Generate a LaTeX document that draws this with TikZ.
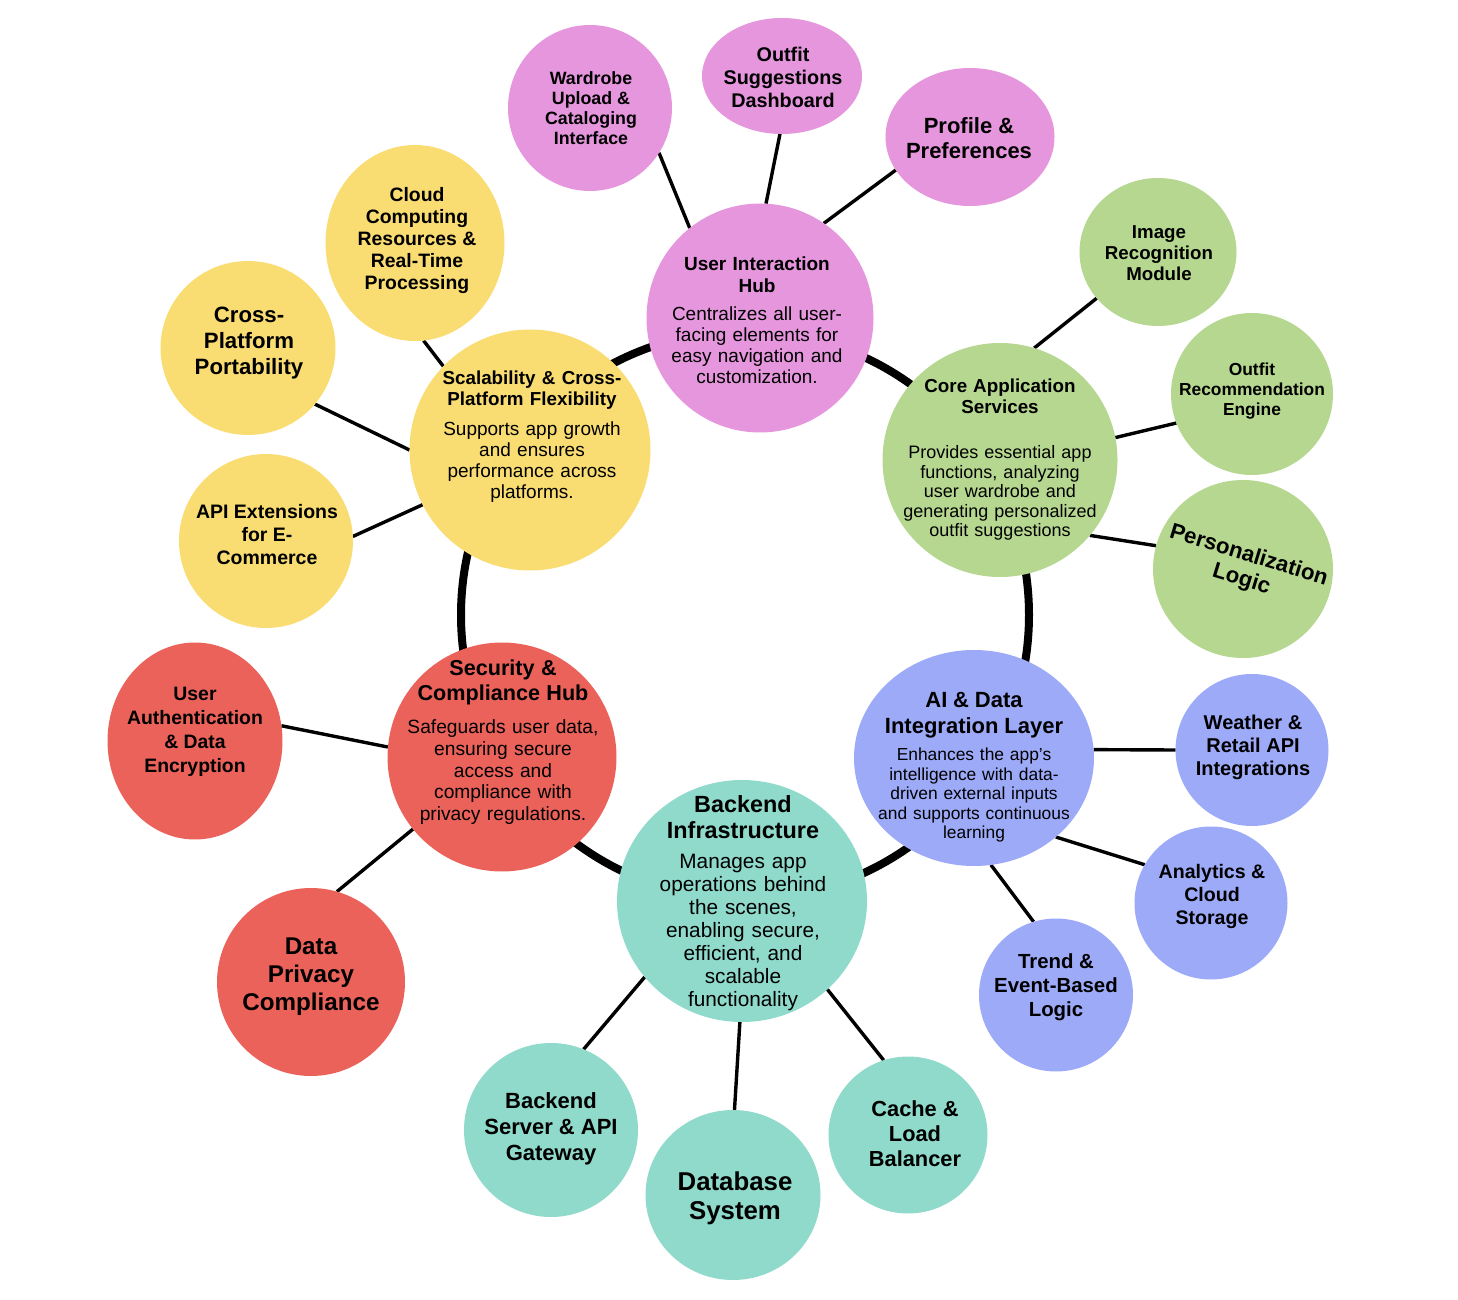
\documentclass[tikz,border=0pt]{standalone}
\usepackage{fontspec}
\setmainfont{Liberation Sans}
\usetikzlibrary{shapes.geometric,backgrounds}
\definecolor{pinkc}{HTML}{E596DD}
\definecolor{greenc}{HTML}{B6D78F}
\definecolor{bluec}{HTML}{9DAAF8}
\definecolor{tealc}{HTML}{8FDACB}
\definecolor{redc}{HTML}{EA625A}
\definecolor{yellowc}{HTML}{F9DD73}

\begin{document}
\begin{tikzpicture}[
    x=0.5pt,
    y=-0.5pt,
    font=\normalfont,
    bubble/.style={
		ellipse,
		draw=none,
		inner sep=0pt,
		outer sep=0pt
	},
	hubtxt/.style 2 args={
		align=center,
		text width=130pt,
		inner sep=0pt,
		text=black,
		font=\fontsize{#1}{#2}\selectfont
	},
	sattxt/.style 2 args={
		align=center,
		inner sep=0pt,
		text=black,
		font=\fontsize{#1}{#2}\selectfont\bfseries
	},
	link/.style={
		draw=black,
		line width=1.7pt
	},
	ring/.style={
		draw=black,
		line width=4pt
	}
  ]
 \useasboundingbox (0,0) rectangle (1458,1300);
 \coordinate (ringc) at (745,615);

% // The hubs
 \node [bubble, fill=pinkc, minimum width=113.5pt, minimum height=114.5pt] (uihub) at (760,318) {};
 \node [bubble, fill=greenc, minimum width=117.5pt, minimum height=117pt] (corehub) at (1000,460) {};
 \node [bubble, fill=bluec, minimum width=120pt, minimum height=108pt] (aihub) at (974,758) {};
 \node [bubble, fill=tealc, minimum width=125pt, minimum height=121pt] (backhub) at (742,901) {};
 \node [bubble, fill=redc, minimum width=114.5pt, minimum height=114.5pt] (sechub) at (502,757) {};
 \node [bubble, fill=yellowc, minimum width=120.5pt, minimum height=120.5pt] (scalehub) at (530,450) {};

 \node [hubtxt={9.5}{10.5}] (uitxt) at (757,320)
 {{\bfseries\fontsize{9.5}{11}\selectfont User Interaction\\Hub\par}\vspace{3.5pt}
  Centralizes all user-\\facing elements for\\easy navigation and\\customization.};
 \node [hubtxt={9}{9.8}] (coretxt) at (1000,460)
 {{\bfseries\fontsize{9.4}{10.5}\selectfont Core Application\\Services\par}\vspace{12.5pt}
  Provides essential app\\functions, analyzing\\user wardrobe and\\generating personalized\\outfit suggestions};
 \node [hubtxt={8.7}{9.75}] (aitxt) at (974,767)
 {{\bfseries\fontsize{11}{13}\selectfont AI \& Data\\Integration Layer\par}\vspace{4pt}
  Enhances the app’s\\intelligence with data-\\driven external inputs\\and supports continuous\\learning};
 \node [hubtxt={10.4}{11.5}] (backtxt) at (743,903)
 {{\bfseries\fontsize{11.7}{13}\selectfont Backend\\Infrastructure\par}\vspace{3.5pt}
  Manages app\\operations behind\\the scenes,\\enabling secure,\\efficient, and\\scalable\\functionality};
 \node [hubtxt={9.6}{10.8}] (sectxt) at (503,742)
 {{\bfseries\fontsize{10.8}{12.5}\selectfont Security \&\\Compliance Hub\par}\vspace{6pt}
  Safeguards user data,\\ensuring secure\\access and\\compliance with\\privacy regulations.};
 \node [hubtxt={9.5}{10.5}] (scaletxt) at (532,437)
 {{\bfseries\fontsize{9.4}{10.5}\selectfont Scalability \& Cross-\\Platform Flexibility\par}\vspace{4.5pt}
  Supports app growth\\and ensures\\performance across\\platforms.};

% user interaction
 \node [bubble, fill=pinkc, minimum width=82pt, minimum height=83pt] (wardrobe) at (590,108) {};
 \node [bubble, fill=pinkc, minimum width=80pt, minimum height=58pt] (outfitdash) at (782,76) {};
 \node [bubble, fill=pinkc, minimum width=84.5pt, minimum height=69pt] (profile) at (970,137) {};
 \node [sattxt={8.9}{10}] (wardrobetxt) at (591,108) {Wardrobe\\Upload \&\\Cataloging\\Interface};
 \node [sattxt={9.9}{11.5}] (outfitdashtxt) at (783,77) {Outfit\\Suggestions\\Dashboard};
 \node [sattxt={11}{12.5}] (profiletxt) at (969,138) {Profile \&\\Preferences};

% core services
 \node [bubble, fill=greenc, minimum width=78.5pt, minimum height=74pt] (imagerec) at (1158,252) {};
 \node [bubble, fill=greenc, minimum width=81pt, minimum height=81pt] (outfitrec) at (1252,394) {};
 \node [bubble, fill=greenc, minimum width=90pt, minimum height=89pt] (personal) at (1243,569) {};
 \node [sattxt={9.35}{10.5}] (imagerectxt) at (1159,253) {Image\\Recognition\\Module};
 \node [sattxt={8.7}{10}] (outfitrectxt) at (1252,391) {Outfit\\Recommendation\\Engine};
 \node [sattxt={11.1}{12.5}, rotate=-17] (personaltxt) at (1245,568) {Personalization\\Logic};

% ai and data
 \node [bubble, fill=bluec, minimum width=76.5pt, minimum height=76pt] (weather) at (1252,750) {};
 \node [bubble, fill=bluec, minimum width=76.5pt, minimum height=76.5pt] (analytics) at (1211,903) {};
 \node [bubble, fill=bluec, minimum width=77pt, minimum height=76.5pt] (trend) at (1056,995) {};
 \node [sattxt={10}{11.5}] (weathertxt) at (1253,747) {Weather \&\\Retail API\\Integrations};
 \node [sattxt={9.8}{11.5}] (analyticstxt) at (1212,896) {Analytics \&\\Cloud\\Storage};
 \node [sattxt={10.2}{12}] (trendtxt) at (1056,987) {Trend \&\\Event-Based\\Logic};

% backend
 \node [bubble, fill=tealc, minimum width=79.5pt, minimum height=78.5pt] (cache) at (908,1135) {};
 \node [bubble, fill=tealc, minimum width=87.5pt, minimum height=85pt] (database) at (733,1195) {};
 \node [bubble, fill=tealc, minimum width=87pt, minimum height=87pt] (backendsrv) at (551,1130) {};
 \node [sattxt={10.9}{12.5}] (cachetxt) at (915,1134) {Cache \&\\Load\\Balancer};
 \node [sattxt={12.9}{14.5}] (databasetxt) at (735,1198) {Database\\System};
 \node [sattxt={11}{13}] (backendsrvtxt) at (551,1129) {Backend\\Server \& API\\Gateway};

% security
 \node [bubble, fill=redc, minimum width=87.5pt, minimum height=98.5pt] (userauth) at (195,741) {};
 \node [bubble, fill=redc, minimum width=94pt, minimum height=94pt] (privacy) at (311,982) {};
 \node [sattxt={9.7}{12}] (userauthtxt) at (195,732) {User\\Authentication\\\& Data\\Encryption};
 \node [sattxt={12.1}{14}] (privacytxt) at (311,977) {Data\\Privacy\\Compliance};

% scalability
 \node [bubble, fill=yellowc, minimum width=89.5pt, minimum height=98pt] (cloud) at (415,243) {};
 \node [bubble, fill=yellowc, minimum width=87.5pt, minimum height=87pt] (crossplat) at (248,348) {};
 \node [bubble, fill=yellowc, minimum width=87pt, minimum height=87pt] (apiext) at (266,541) {};
 \node [sattxt={9.7}{11}] (cloudtxt) at (417,241) {Cloud\\Computing\\Resources \&\\Real-Time\\Processing};
 \node [sattxt={11.1}{13}] (crossplattxt) at (249,343) {Cross-\\Platform\\Portability};
 \node [sattxt={9.75}{11.5}] (apiexttxt) at (267,535) {API Extensions\\for E-\\Commerce};

% // The ring and the links
 \begin{scope}[on background layer]
 \draw [ring] (ringc) circle (284);

 \draw [link] (wardrobe.-33) -- (uihub.128);
 \draw [link] (outfitdash.-92) -- (uihub.87);
 \draw [link] (profile.204) -- (uihub.56);

 \draw [link] (imagerec.217) -- (corehub.73);
 \draw [link] (outfitrec.201) -- (corehub.11);
 \draw [link] (personal.165) -- (corehub.-40);

 \draw [link] (weather.180) -- (aihub.4);
 \draw [link] (analytics.150) -- (aihub.-44);
 \draw [link] (trend.107) -- (aihub.-81);

 \draw [link] (cache.108) -- (backhub.-46);
 \draw [link] (database.89) -- (backhub.-91);
 \draw [link] (backendsrv.68) -- (backhub.218);

 \draw [link] (userauth.10) -- (sechub.175);
 \draw [link] (privacy.74) -- (sechub.219);

 \draw [link] (cloud.-85) -- (scalehub.136);
 \draw [link] (crossplat.-40) -- (scalehub.180);
 \draw [link] (apiext.3) -- (scalehub.207);
 \end{scope}

\end{tikzpicture}
\end{document}
